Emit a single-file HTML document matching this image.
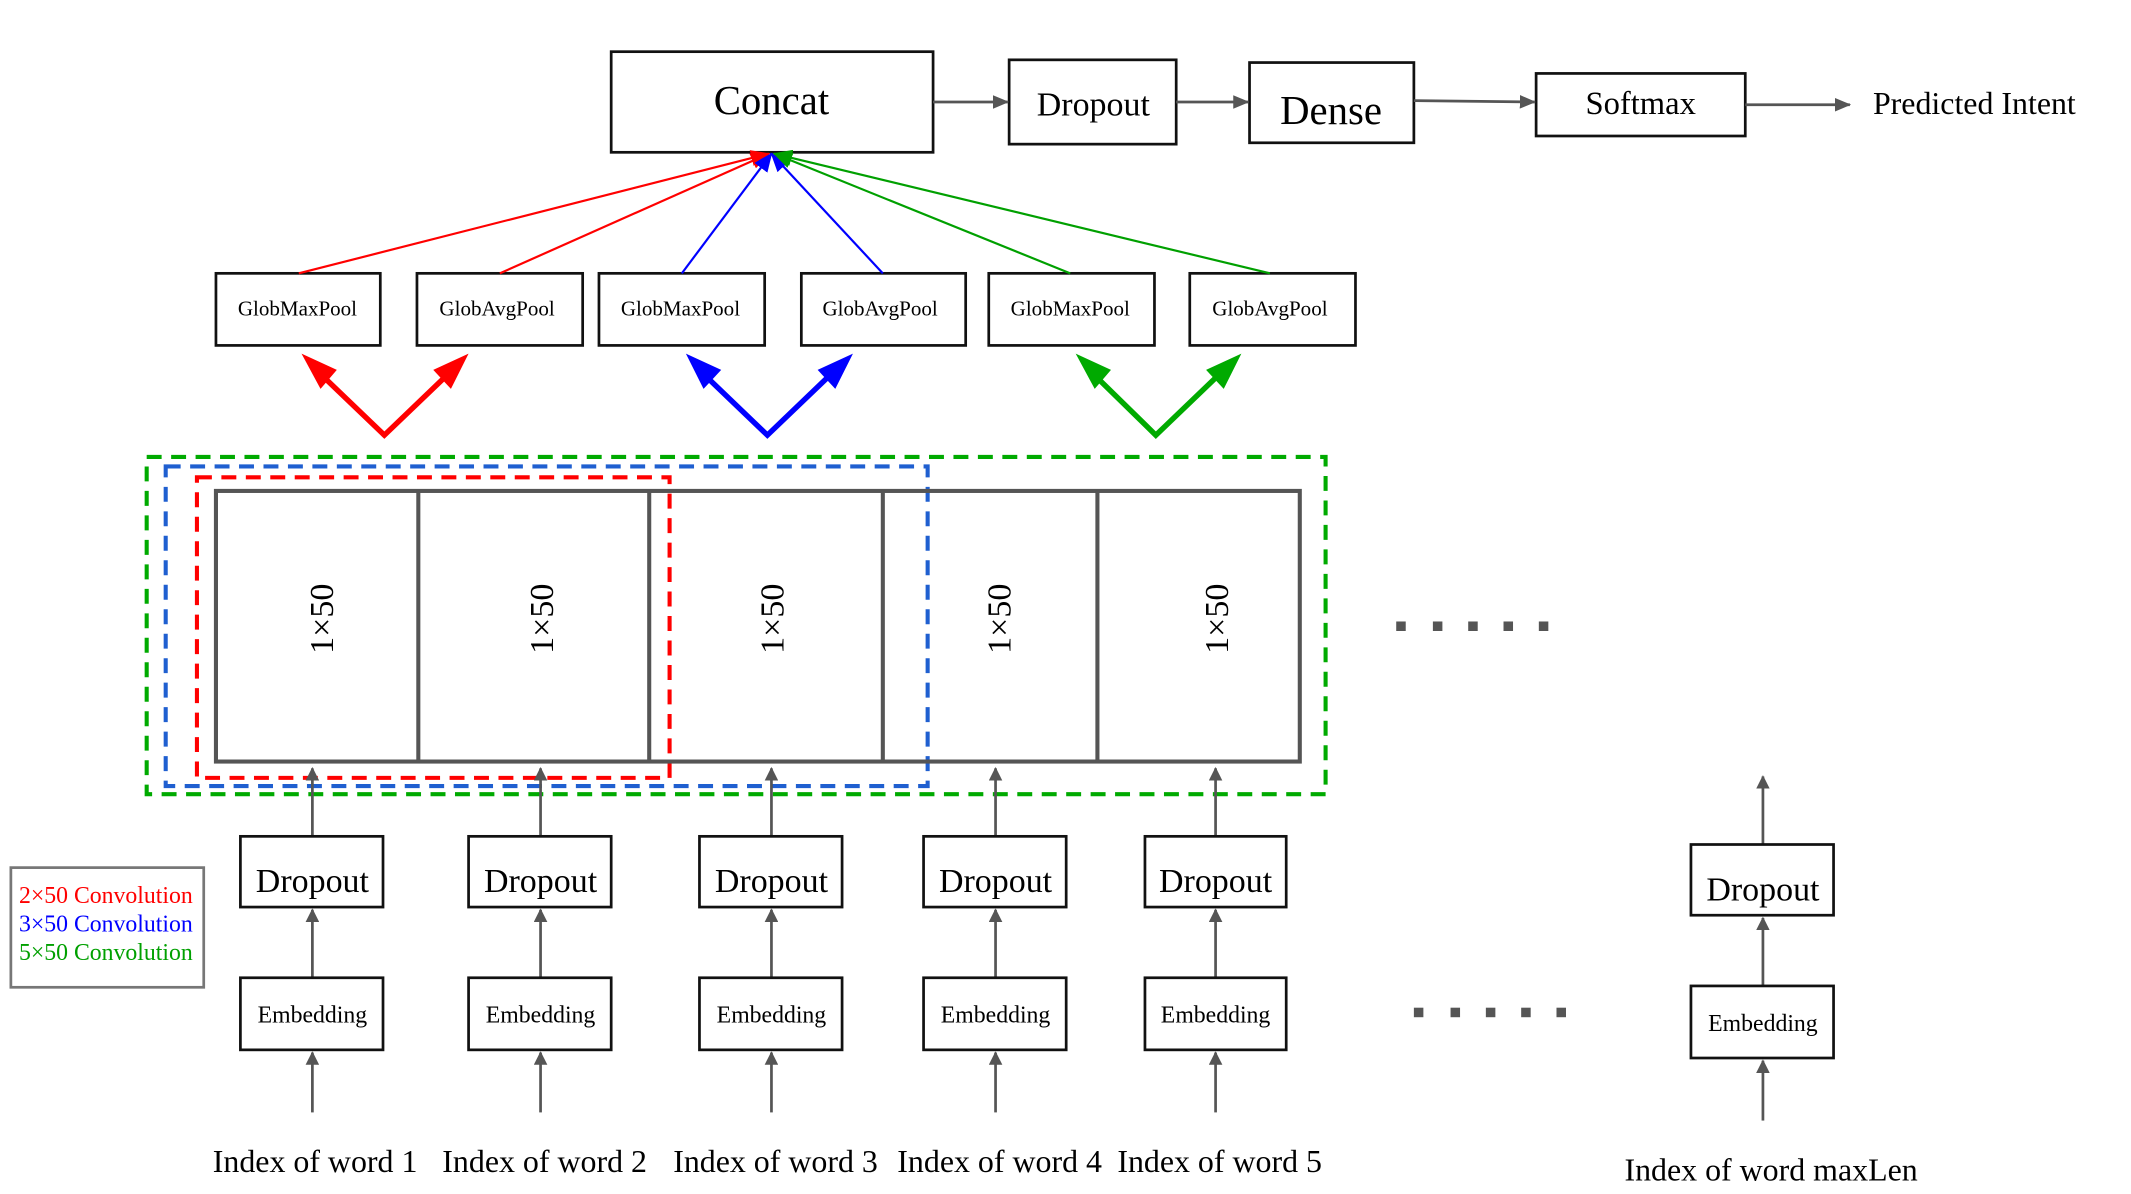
<!DOCTYPE html>
<html><head><meta charset="utf-8"><style>html,body{margin:0;padding:0;background:#fff}svg{display:block}</style></head>
<body>
<svg width="2131" height="1194" viewBox="0 0 1569 878" preserveAspectRatio="none" xmlns="http://www.w3.org/2000/svg" font-family="Liberation Serif, serif">
<defs>
<marker id="g" markerWidth="10" markerHeight="10" refX="9" refY="5" orient="auto" markerUnits="userSpaceOnUse"><path d="M0,0 L10,5 L0,10z" fill="#555"/></marker>
<marker id="gs" markerWidth="12" markerHeight="12" refX="11" refY="6" orient="auto" markerUnits="userSpaceOnUse"><path d="M0,1 L12,6 L0,11z" fill="#555"/></marker>
<marker id="r" markerWidth="14" markerHeight="12" refX="13" refY="6" orient="auto" markerUnits="userSpaceOnUse"><path d="M0,0 L14,6 L0,12z" fill="red"/></marker>
<marker id="b" markerWidth="14" markerHeight="12" refX="13" refY="6" orient="auto" markerUnits="userSpaceOnUse"><path d="M0,0 L14,6 L0,12z" fill="blue"/></marker>
<marker id="gr" markerWidth="14" markerHeight="12" refX="13" refY="6" orient="auto" markerUnits="userSpaceOnUse"><path d="M0,0 L14,6 L0,12z" fill="#00a000"/></marker>
</defs>
<g fill="none" stroke="#111" stroke-width="2">
<rect x="450" y="38" width="237" height="74"/>
<rect x="743" y="44" width="123" height="62"/>
<rect x="920" y="46" width="121" height="59"/>
<rect x="1131" y="54" width="154" height="46"/>
<rect x="159" y="201" width="121" height="53"/>
<rect x="307" y="201" width="122" height="53"/>
<rect x="441" y="201" width="122" height="53"/>
<rect x="590" y="201" width="121" height="53"/>
<rect x="728" y="201" width="122" height="53"/>
<rect x="876" y="201" width="122" height="53"/>
</g>
<g stroke="#555" stroke-width="2" fill="none">
<line x1="687" y1="75" x2="742" y2="75" marker-end="url(#gs)"/>
<line x1="866" y1="75" x2="919" y2="75" marker-end="url(#gs)"/>
<line x1="1041" y1="74" x2="1130" y2="75" marker-end="url(#gs)"/>
<line x1="1285" y1="77" x2="1362" y2="77" marker-end="url(#gs)"/>
</g>
<g font-size="30" text-anchor="middle">
<text x="568" y="84">Concat</text>
<text x="805" y="85" font-size="25">Dropout</text>
<text x="980" y="91">Dense</text>
<text x="1208" y="84" font-size="24">Softmax</text>
</g>
<text x="1379" y="84" font-size="23.5">Predicted Intent</text>
<g font-size="15.5" text-anchor="middle">
<text x="219" y="232">GlobMaxPool</text><text x="366" y="232">GlobAvgPool</text>
<text x="501" y="232">GlobMaxPool</text><text x="648" y="232">GlobAvgPool</text>
<text x="788" y="232">GlobMaxPool</text><text x="935" y="232">GlobAvgPool</text>
</g>
<g stroke-width="1.6" fill="none">
<line x1="220" y1="201" x2="566" y2="113" stroke="red" marker-end="url(#r)"/>
<line x1="368" y1="201" x2="566" y2="113" stroke="red" marker-end="url(#r)"/>
<line x1="502" y1="201" x2="568" y2="113" stroke="blue" marker-end="url(#b)"/>
<line x1="650" y1="201" x2="568" y2="113" stroke="blue" marker-end="url(#b)"/>
<line x1="788" y1="201" x2="570" y2="113" stroke="#00a000" marker-end="url(#gr)"/>
<line x1="935" y1="201" x2="570" y2="113" stroke="#00a000" marker-end="url(#gr)"/>
</g>
<g stroke-width="4" fill="none">
<polyline points="236,275 283,320 330,275" stroke="red"/>
<polyline points="518,275 565,320 612,275" stroke="blue"/>
<polyline points="805,275 851,320 898,275" stroke="#00aa00"/>
</g>
<path d="M222,260 L248,272 L236,286z M345,260 L332,286 L319,272z" fill="red"/>
<path d="M505,260 L531,272 L518,286z M628,260 L615,286 L602,272z" fill="blue"/>
<path d="M792,260 L818,272 L806,286z M914,260 L901,286 L888,272z" fill="#00aa00"/>
<g fill="none" stroke-width="3" stroke-dasharray="11,7">
<rect x="108" y="336" width="868" height="248" stroke="#00aa00"/>
<rect x="122" y="343" width="561" height="235" stroke="#1f5fd0"/>
<rect x="145" y="351" width="348" height="221" stroke="red"/>
</g>
<g fill="none" stroke="#555" stroke-width="3">
<rect x="159" y="361" width="798" height="199"/>
<line x1="308" y1="361" x2="308" y2="560"/>
<line x1="478" y1="361" x2="478" y2="560"/>
<line x1="650" y1="361" x2="650" y2="560"/>
<line x1="808" y1="361" x2="808" y2="560"/>
</g>
<g font-size="25" text-anchor="middle">
<text transform="translate(245,455) rotate(-90)">1×50</text>
<text transform="translate(407,455) rotate(-90)">1×50</text>
<text transform="translate(577,455) rotate(-90)">1×50</text>
<text transform="translate(744,455) rotate(-90)">1×50</text>
<text transform="translate(904,455) rotate(-90)">1×50</text>
</g>
<g fill="#555">
<rect x="1028" y="457" width="7" height="7"/><rect x="1055" y="457" width="7" height="7"/><rect x="1081" y="457" width="7" height="7"/><rect x="1107" y="457" width="7" height="7"/><rect x="1133" y="457" width="7" height="7"/>
<rect x="1041" y="741" width="7" height="7"/><rect x="1068" y="741" width="7" height="7"/><rect x="1094" y="741" width="7" height="7"/><rect x="1120" y="741" width="7" height="7"/><rect x="1146" y="741" width="7" height="7"/>
</g>
<g stroke="#555" stroke-width="2" fill="none">
<line x1="230" y1="615" x2="230" y2="565" marker-end="url(#g)"/><line x1="230" y1="719" x2="230" y2="669" marker-end="url(#g)"/><line x1="230" y1="818" x2="230" y2="774" marker-end="url(#g)"/>
<line x1="398" y1="615" x2="398" y2="565" marker-end="url(#g)"/><line x1="398" y1="719" x2="398" y2="669" marker-end="url(#g)"/><line x1="398" y1="818" x2="398" y2="774" marker-end="url(#g)"/>
<line x1="568" y1="615" x2="568" y2="565" marker-end="url(#g)"/><line x1="568" y1="719" x2="568" y2="669" marker-end="url(#g)"/><line x1="568" y1="818" x2="568" y2="774" marker-end="url(#g)"/>
<line x1="733" y1="615" x2="733" y2="565" marker-end="url(#g)"/><line x1="733" y1="719" x2="733" y2="669" marker-end="url(#g)"/><line x1="733" y1="818" x2="733" y2="774" marker-end="url(#g)"/>
<line x1="895" y1="615" x2="895" y2="565" marker-end="url(#g)"/><line x1="895" y1="719" x2="895" y2="669" marker-end="url(#g)"/><line x1="895" y1="818" x2="895" y2="774" marker-end="url(#g)"/>
<line x1="1298" y1="621" x2="1298" y2="571" marker-end="url(#g)"/><line x1="1298" y1="725" x2="1298" y2="675" marker-end="url(#g)"/><line x1="1298" y1="824" x2="1298" y2="780" marker-end="url(#g)"/>
</g>
<g fill="none" stroke="#111" stroke-width="2">
<rect x="177" y="615" width="105" height="52"/><rect x="345" y="615" width="105" height="52"/><rect x="515" y="615" width="105" height="52"/><rect x="680" y="615" width="105" height="52"/><rect x="843" y="615" width="104" height="52"/><rect x="1245" y="621" width="105" height="52"/>
<rect x="177" y="719" width="105" height="53"/><rect x="345" y="719" width="105" height="53"/><rect x="515" y="719" width="105" height="53"/><rect x="680" y="719" width="105" height="53"/><rect x="843" y="719" width="104" height="53"/><rect x="1245" y="725" width="105" height="53"/>
</g>
<g font-size="25" text-anchor="middle">
<text x="230" y="656">Dropout</text><text x="398" y="656">Dropout</text><text x="568" y="656">Dropout</text><text x="733" y="656">Dropout</text><text x="895" y="656">Dropout</text><text x="1298" y="662">Dropout</text>
</g>
<g font-size="17.5" text-anchor="middle">
<text x="230" y="752">Embedding</text><text x="398" y="752">Embedding</text><text x="568" y="752">Embedding</text><text x="733" y="752">Embedding</text><text x="895" y="752">Embedding</text><text x="1298" y="758">Embedding</text>
</g>
<g font-size="23.5" text-anchor="middle">
<text x="232" y="862">Index of word 1</text><text x="401" y="862">Index of word 2</text><text x="571" y="862">Index of word 3</text><text x="736" y="862">Index of word 4</text><text x="898" y="862">Index of word 5</text><text x="1304" y="868">Index of word maxLen</text>
</g>
<rect x="8" y="638" width="142" height="88" fill="none" stroke="#777" stroke-width="2"/>
<g font-size="17.5">
<text x="14" y="664" fill="red">2×50 Convolution</text>
<text x="14" y="685" fill="blue">3×50 Convolution</text>
<text x="14" y="706" fill="#00a000">5×50 Convolution</text>
</g>
</svg>
</body></html>
